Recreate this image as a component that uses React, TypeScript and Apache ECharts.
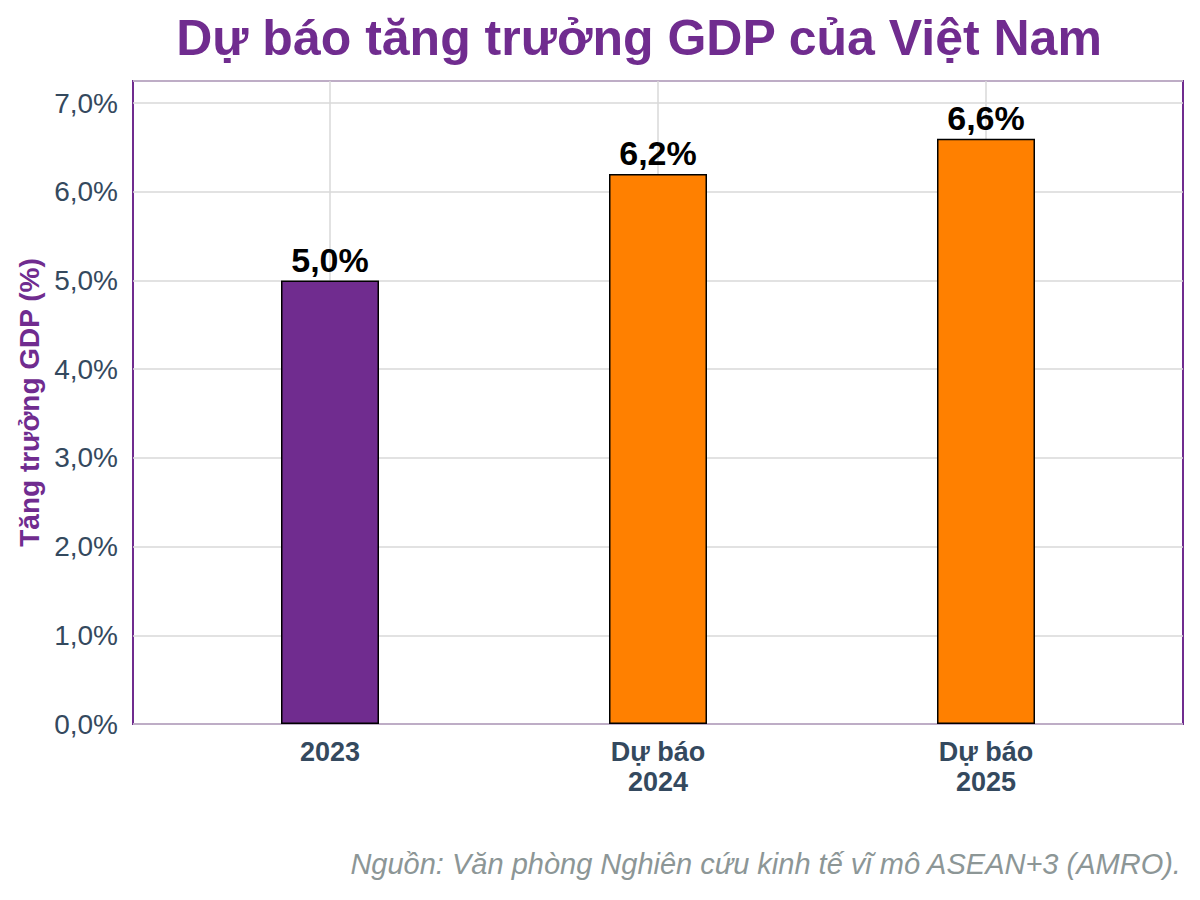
import React, { useEffect, useRef } from "react";
import * as echarts from "echarts";

const categories = ["2023", "Dự báo\n2024", "Dự báo\n2025"];
const values = [5.0, 6.2, 6.6];
const barColors = ["#702C8F", "#FF8000", "#FF8000"];
const yTicks = [0, 1, 2, 3, 4, 5, 6, 7];

const PURPLE = "#702C8F";
const TEXT = "#34495E";
const FONT = "Liberation Sans, Arial, sans-serif";

export default function App() {
  const ref = useRef<HTMLDivElement>(null);
  useEffect(() => {
    if (!ref.current) return;
    const chart = echarts.init(ref.current, undefined, { renderer: "svg" });
    const fmt = (v: number) => v.toFixed(1).replace(".", ",") + "%";
    chart.setOption({
      animation: false,
      backgroundColor: "#ffffff",
      textStyle: { fontFamily: FONT },
      title: {
        text: "Dự báo tăng trưởng GDP của Việt Nam",
        left: 634,
        top: 8,
        textAlign: "center",
        textStyle: { color: PURPLE, fontSize: 50, fontWeight: "bold", fontFamily: FONT },
      },
      grid: [
        { left: 133, right: 17, top: 81, bottom: 176, show: true, borderColor: PURPLE, borderWidth: 2, backgroundColor: "transparent" },
        { left: 330, right: 214, top: 81, bottom: 176 },
      ],
      xAxis: [
        { type: "value", gridIndex: 0, min: 0, max: 1, show: false },
        {
          type: "category",
          gridIndex: 1,
          data: categories,
          boundaryGap: false,
          axisLine: { show: false },
          axisTick: { show: false },
          splitLine: { show: true, lineStyle: { color: "#D9D9D9", width: 1.5 } },
          axisLabel: {
            color: TEXT,
            fontSize: 27,
            fontWeight: "bold",
            margin: 13,
            lineHeight: 30,
            verticalAlign: "top",
            fontFamily: FONT,
          },
        },
      ],
      yAxis: [
        {
          type: "value",
          gridIndex: 0,
          min: 0,
          max: 7.25,
          interval: 1,
          name: "Tăng trưởng GDP (%)",
          nameLocation: "middle",
          nameGap: 90,
          nameTextStyle: { color: PURPLE, fontSize: 28, fontWeight: "bold", fontFamily: FONT },
          axisLine: { show: false },
          axisTick: { show: false },
          splitLine: { show: true, lineStyle: { color: "#D9D9D9", width: 1.5 } },
          axisLabel: {
            color: TEXT,
            fontSize: 28,
            margin: 15,
            fontFamily: FONT,
            formatter: (v: number) => (yTicks.includes(v) ? fmt(v) : ""),
          },
        },
        { type: "value", gridIndex: 1, min: 0, max: 7.25, show: false },
      ],
      series: [
        {
          type: "bar",
          xAxisIndex: 1,
          yAxisIndex: 1,
          barWidth: 98,
          clip: false,
          z: 5,
          data: values.map((v, i) => ({
            value: v,
            itemStyle: { color: barColors[i], borderColor: "#000000", borderWidth: 1.5 },
          })),
          label: {
            show: true,
            position: "top",
            distance: 4,
            color: "#000000",
            fontSize: 34,
            fontWeight: "bold",
            fontFamily: FONT,
            formatter: (p: any) => fmt(p.value),
          },
        },
      ],
      graphic: [
        {
          type: "text",
          right: 18,
          top: 849,
          style: {
            text: "Nguồn: Văn phòng Nghiên cứu kinh tế vĩ mô ASEAN+3 (AMRO).",
            fill: "#8C9696",
            fontSize: 29,
            fontStyle: "italic",
            fontFamily: FONT,
          },
        },
      ],
    });
    return () => chart.dispose();
  }, []);
  return <div ref={ref} style={{ width: 1200, height: 900, margin: -8 }} />;
}
